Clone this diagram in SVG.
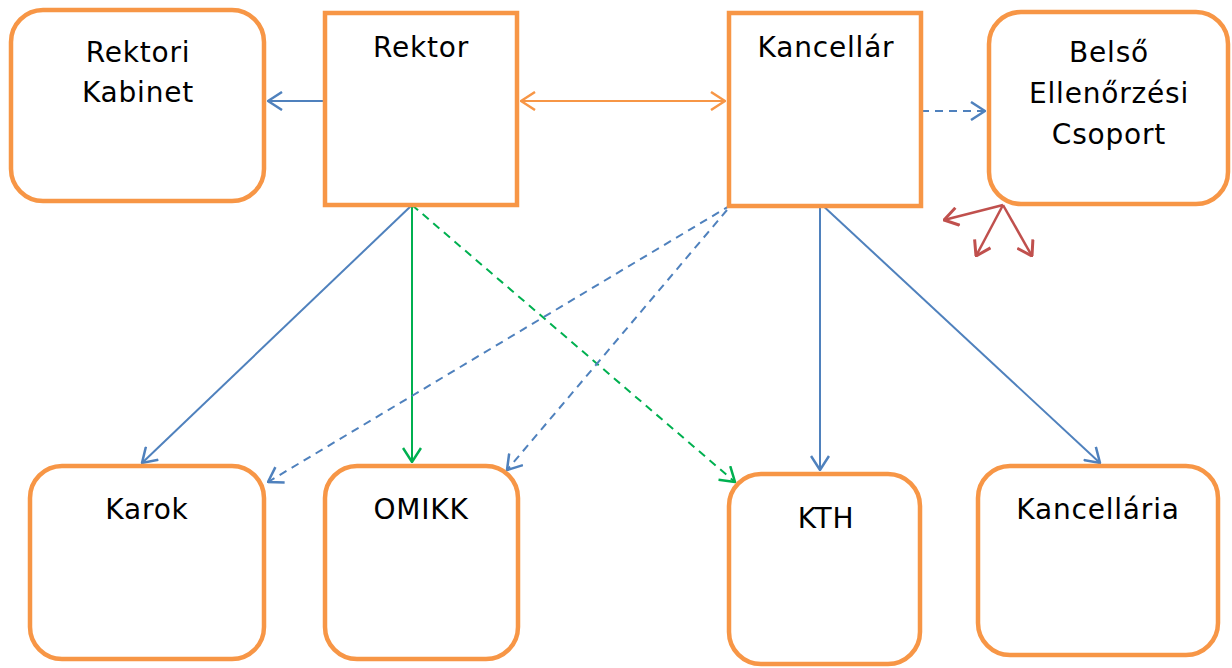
<svg xmlns="http://www.w3.org/2000/svg" width="1232" height="668" viewBox="0 0 1232 668">
<style>
.box{fill:#fff;stroke:#F79646;stroke-width:4.5}
.t{font-family:"DejaVu Sans","Liberation Sans",sans-serif;font-size:28px;letter-spacing:0.8px;fill:#000;text-anchor:middle}
.c{fill:none;stroke-width:2}
.b{stroke:#4F81BD}
.o{stroke:#F79646}
.g{stroke:#00B050}
.r{stroke:#C0504D;stroke-width:2.5}
.d{stroke-dasharray:8 6}
</style>
<defs>
<marker id="mb" viewBox="0 0 16 20" refX="15" refY="10" markerWidth="16" markerHeight="20" markerUnits="userSpaceOnUse" orient="auto-start-reverse"><path d="M1,1 L15,10 L1,19" fill="none" stroke="#4F81BD" stroke-width="2.5"/></marker>
<marker id="mo" viewBox="0 0 16 20" refX="15" refY="10" markerWidth="16" markerHeight="20" markerUnits="userSpaceOnUse" orient="auto-start-reverse"><path d="M1,1 L15,10 L1,19" fill="none" stroke="#F79646" stroke-width="2.5"/></marker>
<marker id="mg" viewBox="0 0 16 20" refX="15" refY="10" markerWidth="16" markerHeight="20" markerUnits="userSpaceOnUse" orient="auto-start-reverse"><path d="M1,1 L15,10 L1,19" fill="none" stroke="#00B050" stroke-width="2.5"/></marker>
<marker id="mr" viewBox="0 0 16 20" refX="15" refY="10" markerWidth="16" markerHeight="20" markerUnits="userSpaceOnUse" orient="auto-start-reverse"><path d="M1,1 L15,10 L1,19" fill="none" stroke="#C0504D" stroke-width="3"/></marker>
</defs>
<rect width="1232" height="668" fill="#fff"/>
<g id="connectors">
<line class="c b" x1="327" y1="101" x2="268" y2="101" marker-end="url(#mb)"/>
<line class="c o" x1="521" y1="101" x2="725" y2="101" marker-start="url(#mo)" marker-end="url(#mo)"/>
<line class="c b d" x1="921" y1="111" x2="985" y2="111" marker-end="url(#mb)"/>
<line class="c b" x1="412" y1="205" x2="142" y2="463" marker-end="url(#mb)"/>
<line class="c g" x1="412" y1="205" x2="412" y2="462" marker-end="url(#mg)"/>
<line class="c g d" x1="412" y1="205" x2="735" y2="482" marker-end="url(#mg)"/>
<line class="c b d" x1="731" y1="205" x2="268" y2="482" marker-end="url(#mb)"/>
<line class="c b d" x1="727" y1="210" x2="507" y2="470" marker-end="url(#mb)"/>
<line class="c b" x1="820" y1="203" x2="820" y2="470" marker-end="url(#mb)"/>
<line class="c b" x1="820" y1="203" x2="1100" y2="463" marker-end="url(#mb)"/>
<line class="c r" x1="1003" y1="205" x2="944" y2="220" marker-end="url(#mr)"/>
<line class="c r" x1="1003" y1="205" x2="976" y2="256" marker-end="url(#mr)"/>
<line class="c r" x1="1003" y1="205" x2="1032" y2="256" marker-end="url(#mr)"/>
</g>
<g id="rektori-kabinet"><rect class="box" x="11" y="10" width="253" height="191" rx="32"/><text class="t" x="138" y="62">Rektori</text><text class="t" x="138" y="102">Kabinet</text></g>
<g id="rektor"><rect class="box" x="325" y="13" width="192" height="192"/><text class="t" x="421" y="57">Rektor</text></g>
<g id="kancellar"><rect class="box" x="729" y="13" width="192" height="193"/><text class="t" x="826" y="57">Kancellár</text></g>
<g id="belso"><rect class="box" x="989" y="12" width="239" height="192" rx="32"/><text class="t" x="1109" y="62">Belső</text><text class="t" x="1109" y="103">Ellenőrzési</text><text class="t" x="1109" y="144">Csoport</text></g>
<g id="karok"><rect class="box" x="30" y="466" width="234" height="193" rx="32"/><text class="t" x="147" y="519">Karok</text></g>
<g id="omikk"><rect class="box" x="325" y="466" width="193" height="193" rx="32"/><text class="t" x="421" y="519">OMIKK</text></g>
<g id="kth"><rect class="box" x="729" y="474" width="191" height="190" rx="32"/><text class="t" x="826" y="528">KTH</text></g>
<g id="kancellaria"><rect class="box" x="978" y="466" width="240" height="189" rx="32"/><text class="t" x="1098" y="519">Kancellária</text></g>
</svg>
